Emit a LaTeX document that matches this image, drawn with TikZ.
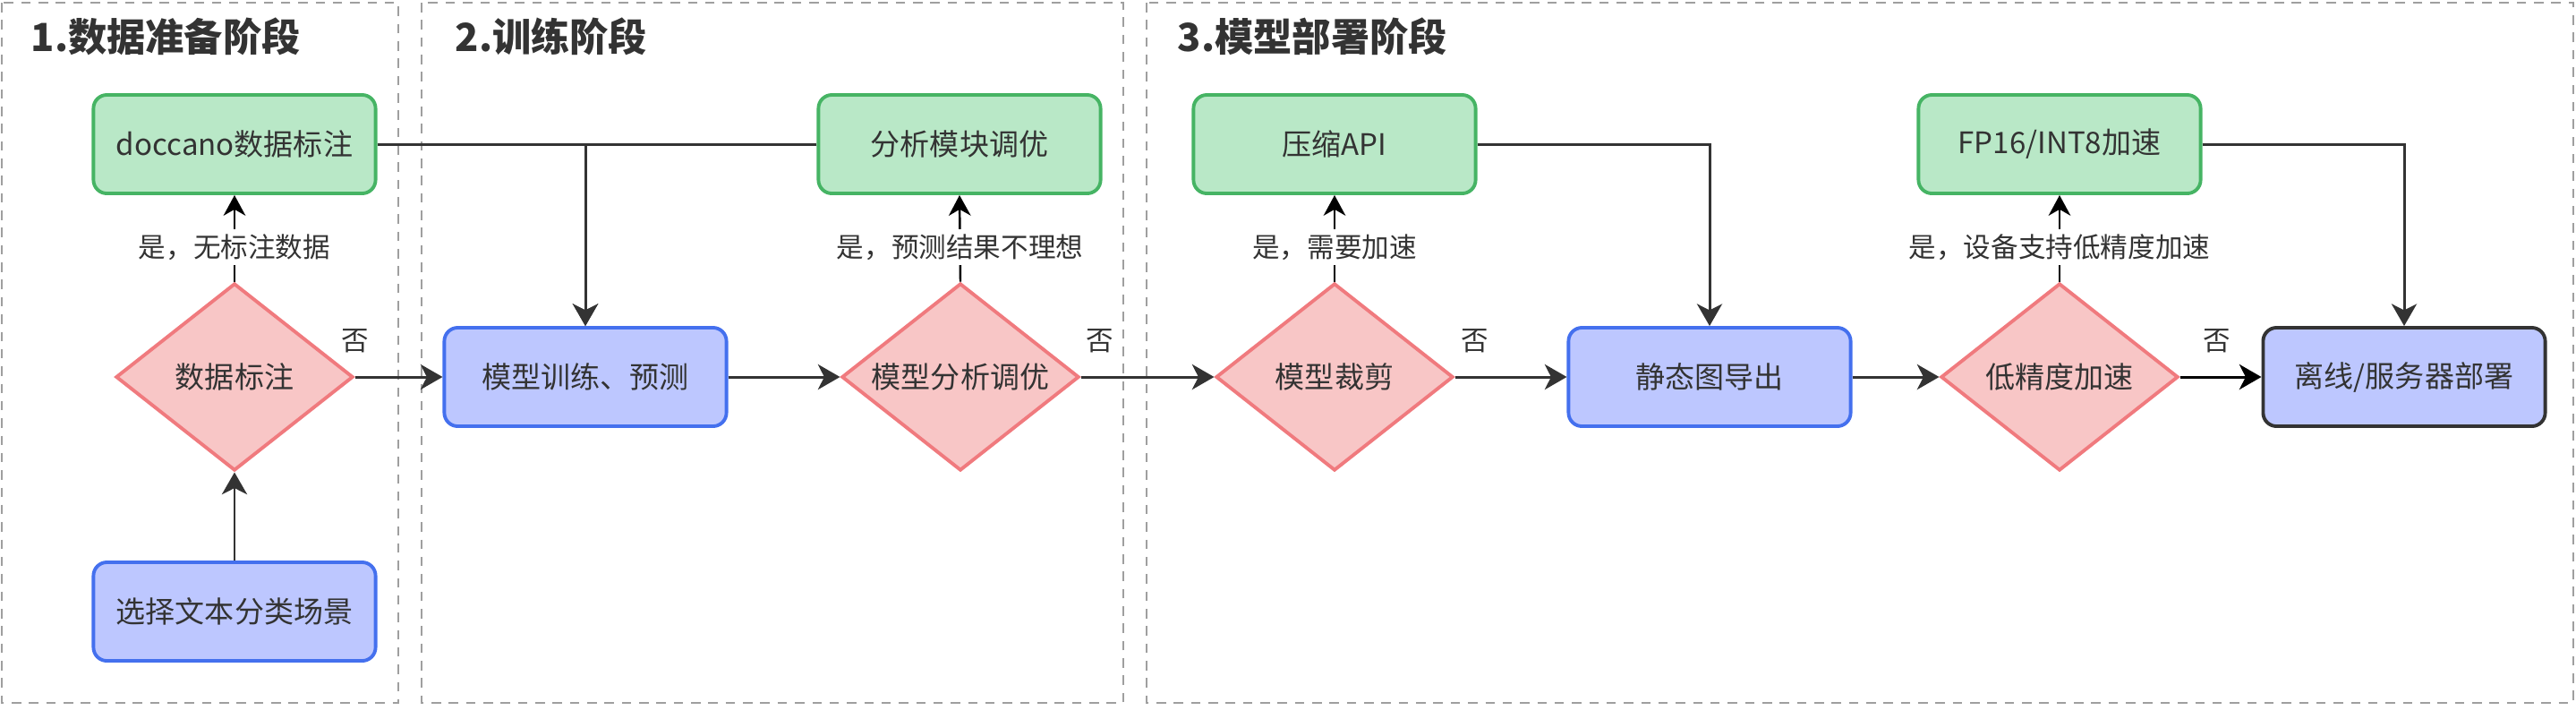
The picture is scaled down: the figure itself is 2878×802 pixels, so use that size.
\documentclass[tikz,border=0pt]{standalone}
\usepackage{fontspec}
\newfontfamily\cjk{Noto Sans CJK SC}
\usetikzlibrary{positioning,calc,arrows.meta,shapes.geometric}

\definecolor{greenfill}{HTML}{B9E8C7}
\definecolor{greenline}{HTML}{46B464}
\definecolor{bluefill}{HTML}{BDC7FF}
\definecolor{blueline}{HTML}{4470EE}
\definecolor{pinkfill}{HTML}{F8C6C6}
\definecolor{pinkline}{HTML}{F07A7E}
\definecolor{darkline}{HTML}{333333}

\begin{document}
\begin{tikzpicture}
    [
    x=0.01cm, y=-0.01cm,
    stage/.style={
      draw=gray!75, line width=0.6pt,
      dash pattern=on 3pt off 2.5pt},
    title/.style={
      anchor=west, inner sep=0pt, text=darkline,
      font=\cjk\bfseries\fontsize{12.3}{15}\selectfont},
    box/.style={
      rounded corners=0.15cm, line width=1.1pt,
      minimum width=3.15cm, minimum height=1.1cm,
      inner sep=0pt, text=darkline,
      font=\cjk\fontsize{9.4}{11}\selectfont},
    greenbox/.style={box, draw=greenline, fill=greenfill},
    bluebox/.style={box, draw=blueline, fill=bluefill},
    decision/.style={
      diamond, shape aspect=1.27,
      draw=pinkline, fill=pinkfill, line width=1.1pt,
      minimum width=2.65cm, minimum height=2.09cm,
      inner sep=0pt, text=darkline,
      font=\cjk\fontsize{9.4}{11}\selectfont},
    flow/.style={
      draw=darkline, line width=0.85pt,
      -{Stealth[length=7pt, width=8pt, inset=2pt]}},
    yesflow/.style={
      draw=black, line width=0.7pt,
      -{Stealth[length=6.5pt, width=7pt, inset=2pt]}},
    yes/.style={
      fill=white, inner sep=1.5pt, text=darkline,
      font=\cjk\fontsize{8.7}{10}\selectfont},
    no/.style={
      inner sep=0pt, yshift=0.4cm, text=darkline,
      font=\cjk\fontsize{8.7}{10}\selectfont}
    ]
    \useasboundingbox (0,0) rectangle (2878,802);

    % the three stages
    \foreach \a/\b in {2/445, 471/1255, 1281/2875} {
      \draw[stage] (\a,3) rectangle (\b,785);
    }
    \node[title] (t1) at (34,41) {1.数据准备阶段};
    \node[title] (t2) at (508,41) {2.训练阶段};
    \node[title] (t3) at (1315,41) {3.模型部署阶段};

    % Stage 1
    \node[greenbox] (doccano) at (262,161) {doccano数据标注};
    \node[decision] (label) at (262,421) {数据标注};
    \node[bluebox] (scene) at (262,683) {选择文本分类场景};

    % Stage 2
    \node[bluebox] (train) at (654,421) {模型训练、预测};
    \node[greenbox] (tune) at (1072,161) {分析模块调优};
    \node[decision] (analyse) at (1073,421) {模型分析调优};

    % Stage 3
    \node[greenbox] (compress) at (1491,161) {压缩API};
    \node[decision] (prune) at (1491,421) {模型裁剪};
    \node[bluebox] (export) at (1910,421) {静态图导出};
    \node[greenbox] (fp16) at (2301,161) {FP16/INT8加速};
    \node[decision] (lowprec) at (2301,421) {低精度加速};
    \node[box, draw=darkline, fill=bluefill] (deploy) at (2686,421) {离线/服务器部署};

    % main flow
    \draw[flow] (scene.north) -- (label.south);
    \draw[flow] (label.east) -- node[no, pos=0] {否} (train.west);
    \draw[flow] (train.east) -- (analyse.west);
    \draw[flow] (analyse.east) -- node[no, pos=0.14] {否} (prune.west);
    \draw[flow] (prune.east) -- node[no, pos=0.18] {否} (export.west);
    \draw[flow] (export.east) -- (lowprec.west);
    \draw[flow, draw=black] (lowprec.east) -- node[no, pos=0.45] {否} (deploy.west);

    % yes branches
    \draw[yesflow] (label.north) -- node[yes, pos=0.4] {是，无标注数据} (doccano.south);
    \draw[yesflow] (analyse.north) -- node[yes, pos=0.4] {是，预测结果不理想} (tune.south);
    \draw[yesflow] (prune.north) -- node[yes, pos=0.4] {是，需要加速} (compress.south);
    \draw[yesflow] (lowprec.north) -- node[yes, pos=0.4] {是，设备支持低精度加速} (fp16.south);

    % back into the flow
    \draw[flow] (doccano.east) -| (train.north);
    \draw[flow] (tune.west) -| (train.north);
    \draw[flow] (compress.east) -| (export.north);
    \draw[flow] (fp16.east) -| (deploy.north);
\end{tikzpicture}
\end{document}
